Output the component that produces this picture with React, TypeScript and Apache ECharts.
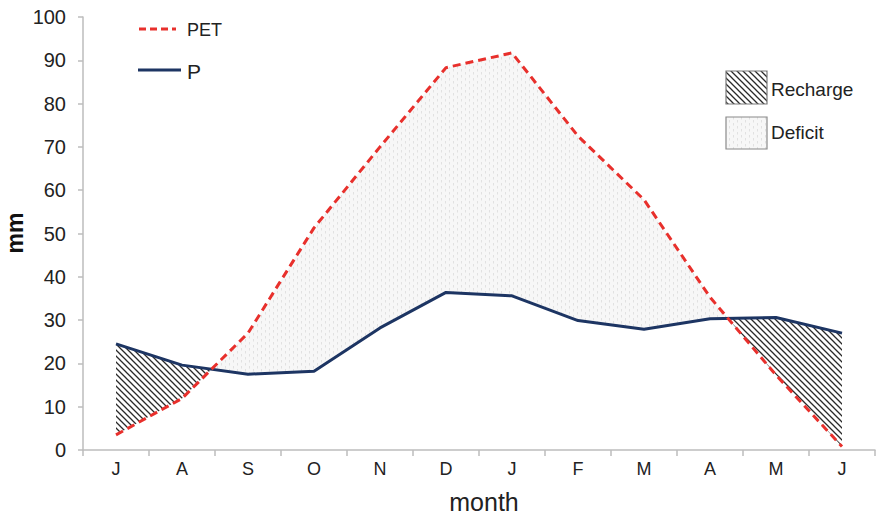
import React, { useEffect, useRef } from "react";
import * as echarts from "echarts";

const months = ["J", "A", "S", "O", "N", "D", "J", "F", "M", "A", "M", "J"];
const pet = [3.5, 11.9, 27, 51.3, 70, 88.3, 91.7, 72.5, 57.8, 35.3, 17.3, 0.8];
const precip = [24.5, 19.6, 17.5, 18.2, 28.2, 36.4, 35.6, 29.9, 27.9, 30.3, 30.6, 27];
const yMin = 0;
const yMax = 100;
const yInterval = 10;

const FONT = "'Liberation Sans', Arial, sans-serif";
const RED = "#e8302c";
const NAVY = "#1d3563";

function makeHatch(): HTMLCanvasElement {
  const c = document.createElement("canvas");
  c.width = 6;
  c.height = 6;
  const ctx = c.getContext("2d")!;
  ctx.strokeStyle = "#2a2a2a";
  ctx.lineWidth = 1.3;
  ctx.beginPath();
  ctx.moveTo(-1, -1);
  ctx.lineTo(7, 7);
  ctx.moveTo(-1, 5);
  ctx.lineTo(1, 7);
  ctx.moveTo(5, -1);
  ctx.lineTo(7, 1);
  ctx.stroke();
  return c;
}

function makeDots(): HTMLCanvasElement {
  const c = document.createElement("canvas");
  c.width = 8;
  c.height = 6;
  const ctx = c.getContext("2d")!;
  ctx.fillStyle = "#f7f7f7";
  ctx.fillRect(0, 0, 8, 6);
  ctx.strokeStyle = "#dedede";
  ctx.lineWidth = 0.9;
  ctx.beginPath();
  ctx.moveTo(1.5, 0);
  ctx.lineTo(1.5, 2.5);
  ctx.moveTo(5.5, 3);
  ctx.lineTo(5.5, 5.5);
  ctx.stroke();
  return c;
}

export default function App() {
  const ref = useRef<HTMLDivElement>(null);

  useEffect(() => {
    if (!ref.current) return;
    const chart = echarts.init(ref.current, null, { renderer: "svg" });
    const hatch = { image: makeHatch(), repeat: "repeat", imageWidth: 6, imageHeight: 6 };
    const dots = { image: makeDots(), repeat: "repeat", imageWidth: 8, imageHeight: 6 };

    const renderFill = (params: any, api: any) => {
      if (params.dataIndex !== 0) return null;
      const n = months.length;
      const pP = precip.map((v, i) => api.coord([i, v]));
      const pE = pet.map((v, i) => api.coord([i, v]));
      const regions: any[] = [];
      let cur: any = { sign: precip[0] - pet[0] >= 0 ? 1 : -1, up: [pP[0]], lo: [pE[0]] };
      for (let i = 0; i < n - 1; i++) {
        const d0 = precip[i] - pet[i];
        const d1 = precip[i + 1] - pet[i + 1];
        if (d0 * d1 < 0) {
          const t = d0 / (d0 - d1);
          const cx = pP[i][0] + t * (pP[i + 1][0] - pP[i][0]);
          const cy = pP[i][1] + t * (pP[i + 1][1] - pP[i][1]);
          cur.up.push([cx, cy]);
          cur.lo.push([cx, cy]);
          regions.push(cur);
          cur = { sign: d1 > 0 ? 1 : -1, up: [[cx, cy]], lo: [[cx, cy]] };
        }
        cur.up.push(pP[i + 1]);
        cur.lo.push(pE[i + 1]);
      }
      regions.push(cur);
      return {
        type: "group",
        children: regions.map((r) => ({
          type: "polygon",
          shape: { points: r.up.concat(r.lo.slice().reverse()) },
          style: { fill: r.sign > 0 ? hatch : dots, stroke: null },
        })),
      };
    };

    chart.setOption({
      animation: false,
      backgroundColor: "#ffffff",
      grid: { left: 83, right: 1, top: 17, bottom: 66, containLabel: false },
      xAxis: {
        type: "category",
        data: months,
        boundaryGap: true,
        axisLine: { show: true, lineStyle: { color: "#bdbdbd", width: 1.5 } },
        axisTick: { show: true, length: 6, lineStyle: { color: "#bdbdbd", width: 1.5 } },
        axisLabel: { color: "#222", fontSize: 18, fontFamily: FONT, margin: 10 },
        splitLine: { show: false },
      },
      yAxis: {
        type: "value",
        min: yMin,
        max: yMax,
        interval: yInterval,
        axisLine: { show: true, lineStyle: { color: "#bdbdbd", width: 1.5 } },
        axisTick: { show: true, length: 5, lineStyle: { color: "#bdbdbd", width: 1.5 } },
        axisLabel: { color: "#222", fontSize: 20, fontFamily: FONT, margin: 17 },
        splitLine: { show: false },
      },
      series: [
        {
          type: "custom",
          renderItem: renderFill,
          data: [[0, 0]],
          z: 1,
          silent: true,
        },
        {
          name: "P",
          type: "line",
          data: precip,
          showSymbol: false,
          lineStyle: { color: NAVY, width: 3 },
          z: 3,
        },
        {
          name: "PET",
          type: "line",
          data: pet,
          showSymbol: false,
          lineStyle: { color: RED, width: 3, type: [8, 5] },
          z: 4,
        },
      ],
      graphic: [
        {
          type: "text",
          x: 15,
          y: 233,
          rotation: Math.PI / 2,
          style: {
            text: "mm",
            fontSize: 23,
            fontWeight: "bold",
            fontFamily: FONT,
            fill: "#111",
            align: "center",
            verticalAlign: "middle",
          },
        },
        {
          type: "text",
          x: 484,
          y: 502,
          style: {
            text: "month",
            fontSize: 25,
            fontFamily: FONT,
            fill: "#222",
            align: "center",
            verticalAlign: "middle",
          },
        },
        {
          type: "line",
          shape: { x1: 139, y1: 29, x2: 176, y2: 29 },
          style: { stroke: RED, lineWidth: 3, lineDash: [7, 4] },
        },
        {
          type: "text",
          x: 187,
          y: 30,
          style: { text: "PET", fontSize: 18, fontFamily: FONT, fill: "#222", verticalAlign: "middle" },
        },
        {
          type: "line",
          shape: { x1: 138, y1: 70, x2: 181, y2: 70 },
          style: { stroke: NAVY, lineWidth: 3 },
        },
        {
          type: "text",
          x: 187,
          y: 71,
          style: { text: "P", fontSize: 21, fontFamily: FONT, fill: "#222", verticalAlign: "middle" },
        },
        {
          type: "rect",
          shape: { x: 726, y: 71, width: 41, height: 33 },
          style: { fill: hatch, stroke: "#7a7a7a", lineWidth: 1.2 },
        },
        {
          type: "text",
          x: 771,
          y: 89,
          style: { text: "Recharge", fontSize: 19, fontFamily: FONT, fill: "#222", verticalAlign: "middle" },
        },
        {
          type: "rect",
          shape: { x: 726, y: 117, width: 41, height: 32 },
          style: { fill: dots, stroke: "#8a8a8a", lineWidth: 1.2 },
        },
        {
          type: "text",
          x: 771,
          y: 132,
          style: { text: "Deficit", fontSize: 19, fontFamily: FONT, fill: "#222", verticalAlign: "middle" },
        },
      ],
    });

    return () => chart.dispose();
  }, []);

  return (
    <div
      ref={ref}
      style={{ position: "fixed", left: 0, top: 0, width: 876, height: 516, background: "#fff" }}
    />
  );
}
